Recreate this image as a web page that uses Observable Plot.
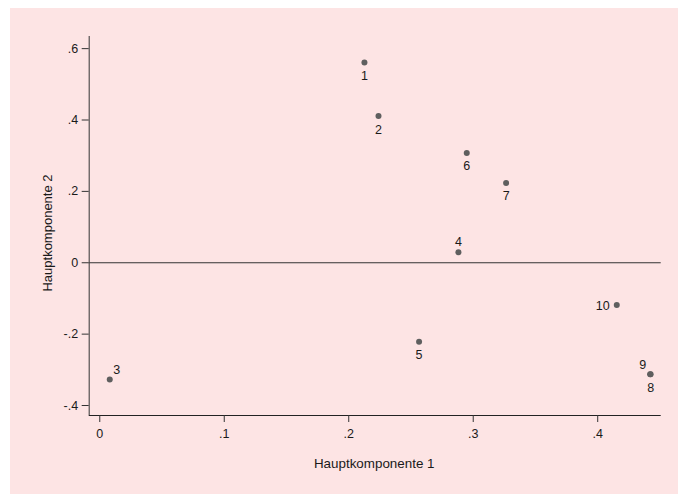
<!DOCTYPE html>
<html><head><meta charset="utf-8">
<script src="https://cdn.jsdelivr.net/npm/d3@7"></script>
<script src="https://cdn.jsdelivr.net/npm/@observablehq/plot@0.6"></script>
<style>
html,body{margin:0;padding:0;background:#fff;}
#bg{position:absolute;left:10px;top:8px;width:668px;height:486px;background:#fde4e4;}
</style></head><body><div id="bg"></div>
<script>
const ids = ["1","2","3","4","5","6","7","8","9","10"];
const pc1 = [0.2126,0.2239,0.0080,0.2881,0.2565,0.2948,0.3264,0.4425,0.4421,0.4153];
const pc2 = [0.5614,0.4112,-0.3273,0.0291,-0.2210,0.3077,0.2238,-0.3125,-0.3122,-0.1183];
const labelPos = [6,6,1,12,6,6,6,6,11,9]; // clock positions (Stata mlabvposition)
const xTicks = [0,0.1,0.2,0.3,0.4];
const yTicks = [-0.4,-0.2,0,0.2,0.4,0.6];
const xTitle = "Hauptkomponente 1";
const yTitle = "Hauptkomponente 2";

const data = ids.map((id,i)=>({id, x:pc1[i], y:pc2[i], pos:labelPos[i]}));
const fmt = d => d === 0 ? "0" : String(+d.toFixed(1)).replace("0.", ".");
const xDom = [-0.0085, 0.451], yDom = [-0.428, 0.634];
const ink = "#1a1a1a";
const clock = {
  6:  {dx:0,    dy:13.5, textAnchor:"middle"},
  12: {dx:0,    dy:-10.3, textAnchor:"middle"},
  1:  {dx:7,    dy:-9.7, textAnchor:"middle"},
  11: {dx:-7.4, dy:-9.3, textAnchor:"middle"},
  9:  {dx:-7,   dy:1,    textAnchor:"end"}
};
const labelMarks = Object.entries(clock).map(([p,o]) =>
  Plot.text(data, {filter: d => d.pos === +p, x:"x", y:"y", text:"id", fill:ink, fontSize:12.5, ...o}));

const chart = Plot.plot({
  width: 668, height: 486,
  marginTop: 28, marginRight: 17.3, marginBottom: 79, marginLeft: 78.7,
  style: {background:"transparent", fontFamily:"'Liberation Sans', Arial, sans-serif", fontSize:"12.5px", color:ink},
  x: {domain: xDom},
  y: {domain: yDom},
  marks: [
    Plot.ruleY([0], {stroke:"#333", strokeWidth:1.1}),
    Plot.ruleX([xDom[0]], {stroke:"#444", strokeWidth:1.1}),
    Plot.ruleY([yDom[0]], {stroke:"#222", strokeWidth:1.1}),
    Plot.axisX({ticks:xTicks, tickSize:7, tickPadding:7, tickFormat:fmt, label:null, stroke:"#333", fill:ink, fontSize:12.5}),
    Plot.axisY({ticks:yTicks, tickSize:7, tickPadding:4, tickFormat:fmt, label:null, stroke:"#333", fill:ink, fontSize:12.5}),
    Plot.dot(data, {x:"x", y:"y", r:3, fill:"#5f5f5f", stroke:null}),
    ...labelMarks,
    Plot.text([xTitle], {frameAnchor:"bottom", textAnchor:"middle", lineAnchor:"middle", dx:-1, dy:48, fontSize:13.4, fill:ink}),
    Plot.text([yTitle], {frameAnchor:"left", textAnchor:"middle", lineAnchor:"middle", rotate:-90, dx:-41, dy:7, fontSize:13, fill:ink})
  ]
});
document.getElementById("bg").appendChild(chart);
</script></body></html>
